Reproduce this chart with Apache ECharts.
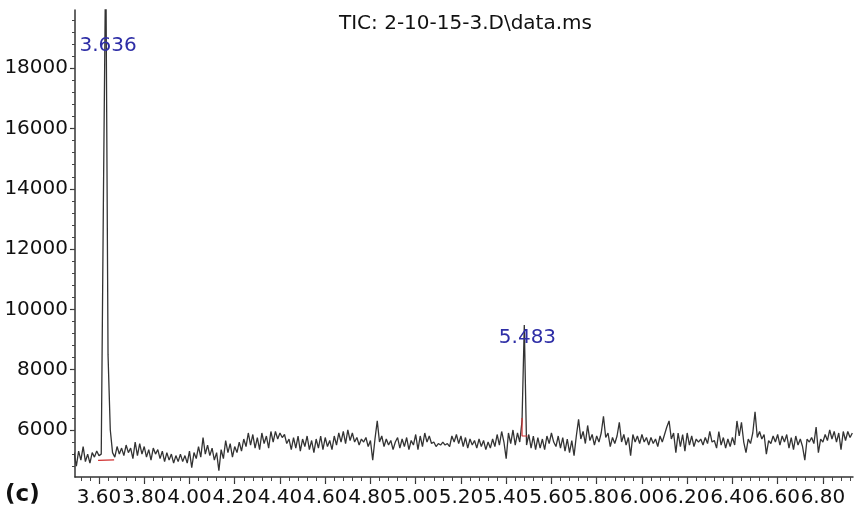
<!DOCTYPE html>
<html><head><meta charset="utf-8">
<script src="https://cdn.jsdelivr.net/npm/echarts@6/dist/echarts.min.js"></script>
<style>html,body{margin:0;padding:0;background:#fff}#c{width:854px;height:511px}</style>
</head><body><div id="c"></div>
<script>
// Sampling grid of the chromatogram (retention time, min)
const tStart = 3.49, tStep = 0.01;
// TIC abundance, in five consecutive stretches
const seg1 = [5250,4800,5300,5000,5450,4950,5200,4900,5250,5100,
  5300,5150,5200,14000,22000,8500,6000,5250,5100,5450,
  5200,5400,5150,5500,5250,5400,5050,5600,5150,5550,
  5200,5450,5100,5350,5000,5400,5200,5350,5050,5300,
  4950,5250,5000,5200,4900,5150,4950,5200,4950,5150,
  4900,5300,4750,5250,5050,5450,5100,5750,5200,5500,
  5150,5400,5000,5250,4650,5350,5050,5650,5250,5550,
  5100,5450];
const seg2 = [5250,5600,5300,5700,5450,5900,5500,5850,5400,5750,
  5350,5900,5550,5800,5400,5950,5600,5950,5700,5900,
  5750,5850,5550,5700,5350,5750,5400,5800,5300,5700,
  5450,5800,5350,5650,5250,5700,5400,5800,5350,5750,
  5450,5650,5350,5800,5500,5900,5600,5950,5550,6000,
  5650,5900,5600,5750,5500,5700,5600,5750,5450,5650,
  5000,5700,6300,5600,5800,5450,5700,5500,5650,5350,
  5600];
const seg3 = [5750,5400,5700,5450,5750,5350,5650,5500,5850,5350,
  5800,5450,5900,5600,5800,5550,5600,5450,5550,5500,
  5600,5500,5550,5450,5800,5600,5850,5550,5800,5450,
  5750,5400,5700,5500,5650,5400,5700,5450,5650,5350,
  5600,5400,5700,5450,5850,5500,5950,5600,5050,5900,
  5550,6000,5500,5900,5600,6300,9480,5500,5850,5400,
  5800,5350,5750,5400,5700,5350,5800,5550,5900,5600];
const seg4 = [5450,5800,5400,5750,5300,5700,5250,5650,5150,5800,
  6350,5700,5950,5550,6150,5650,5850,5500,5800,5600,
  5900,6450,5750,5900,5450,5750,5550,5800,6250,5600,
  5850,5500,5750,5150,5850,5600,5800,5550,5850,5600,
  5750,5500,5750,5550,5700,5450,5800,5600,5850,6100,
  6300,5700,5900,5250,5900,5450,5850,5300,5900,5500,
  5800,5450,5700,5600,5700,5500,5750,5550,5950,5600];
const seg5 = [5650,5400,5950,5500,5750,5400,5700,5450,5750,5500,
  6300,5800,6250,5600,5250,5700,5550,5900,6600,5750,
  5950,5700,5850,5200,5650,5550,5800,5600,5850,5500,
  5800,5600,5850,5400,5750,5350,5800,5500,5700,5450,
  5000,5700,5600,5750,5550,6100,5250,5700,5600,5850,
  5650,6000,5700,5950,5600,5900,5350,5950,5650,5950,
  5750,5900];
// Integration baseline markers (red)
const base1 = [[3.596,4990],[3.667,5010]];
const base2 = [[5.470,6400],[5.470,5800],[5.494,5800]];
// Peak annotations
const peakNames = ['3.636','5.483'];
const peakLabelPos = [[3.640,18756],[5.494,9053]];
// Axes
const xMin = 3.494, xMax = 6.933;
const yMin = 4440, yMax = 19934;
const xTicks = [3.6,3.8,4.0,4.2,4.4,4.6,4.8,5.0,5.2,5.4,5.6,5.8,6.0,6.2,6.4,6.6,6.8];
const xTickLabels = ['3.60','3.80','4.00','4.20','4.40','4.60','4.80','5.00','5.20','5.40','5.60','5.80','6.00','6.20','6.40','6.60','6.80'];
const yTicks = [6000,8000,10000,12000,14000,16000,18000];
const yTickLabels = ['6000','8000','10000','12000','14000','16000','18000'];
const titleText = 'TIC: 2-10-15-3.D\\data.ms';
const panelText = '(c)';

const intensity = seg1.concat(seg2, seg3, seg4, seg5);
const trace = intensity.map((v, i) => [+(tStart + i * tStep).toFixed(3), v]);
const xMinor = []; for (let k = 88; k <= 173; k++) xMinor.push(+(k * 0.04).toFixed(2));
const yMinor = []; for (let k = 12; k <= 49; k++) yMinor.push(k * 400);

const FONT = 'DejaVu Sans';
const chart = echarts.init(document.getElementById('c'));
chart.setOption({
  animation: false,
  backgroundColor: '#ffffff',
  grid: {left: 75, right: 1, top: 10, bottom: 34},
  xAxis: [{
    type: 'value', min: xMin, max: xMax, position: 'bottom',
    axisLine: {show: true, onZero: false, lineStyle: {color: '#333', width: 1.5}},
    axisTick: {show: true, customValues: xTicks, length: 7, lineStyle: {color: '#333', width: 1.2}},
    axisLabel: {show: true, customValues: xTicks, margin: 11, fontSize: 20, fontFamily: FONT, color: '#111',
      formatter: v => xTickLabels[xTicks.indexOf(v)] || v.toFixed(2)},
    splitLine: {show: false}
  }, {
    type: 'value', min: xMin, max: xMax, position: 'bottom',
    axisLine: {show: false},
    axisTick: {show: true, customValues: xMinor, length: 4, lineStyle: {color: '#444', width: 1}},
    axisLabel: {show: false}, splitLine: {show: false}
  }],
  yAxis: [{
    type: 'value', min: yMin, max: yMax, position: 'left',
    axisLine: {show: true, onZero: false, lineStyle: {color: '#333', width: 1.5}},
    axisTick: {show: true, customValues: yTicks, length: 5, lineStyle: {color: '#333', width: 1.2}},
    axisLabel: {show: true, customValues: yTicks, margin: 7, fontSize: 20, fontFamily: FONT, color: '#111',
      formatter: v => yTickLabels[yTicks.indexOf(v)] || String(v)},
    splitLine: {show: false}
  }, {
    type: 'value', min: yMin, max: yMax, position: 'left',
    axisLine: {show: false},
    axisTick: {show: true, customValues: yMinor, length: 3, lineStyle: {color: '#444', width: 1}},
    axisLabel: {show: false}, splitLine: {show: false}
  }],
  series: [{
    type: 'line', data: trace, showSymbol: false, symbol: 'none', clip: true,
    lineStyle: {color: '#333333', width: 1.3}, z: 2,
    markPoint: {
      symbol: 'circle', symbolSize: 1, itemStyle: {color: 'rgba(0,0,0,0)'},
      label: {show: true, position: 'inside', formatter: p => p.name, fontSize: 20, fontFamily: FONT, color: '#2e2ea6'},
      data: peakNames.map((n, i) => ({name: n, coord: peakLabelPos[i]}))
    }
  }, {
    type: 'line', data: base1, showSymbol: false, symbol: 'none',
    lineStyle: {color: '#d03030', width: 1.2}, z: 3
  }, {
    type: 'line', data: base2, showSymbol: false, symbol: 'none',
    lineStyle: {color: '#d03030', width: 1.2}, z: 3
  }],
  graphic: [{
    type: 'text', left: 339, top: 14,
    style: {text: titleText, font: '20px "DejaVu Sans"', fill: '#111'}
  }, {
    type: 'text', left: 5, top: 484,
    style: {text: panelText, font: 'bold 23px "DejaVu Sans"', fill: '#111'}
  }]
});
</script></body></html>
